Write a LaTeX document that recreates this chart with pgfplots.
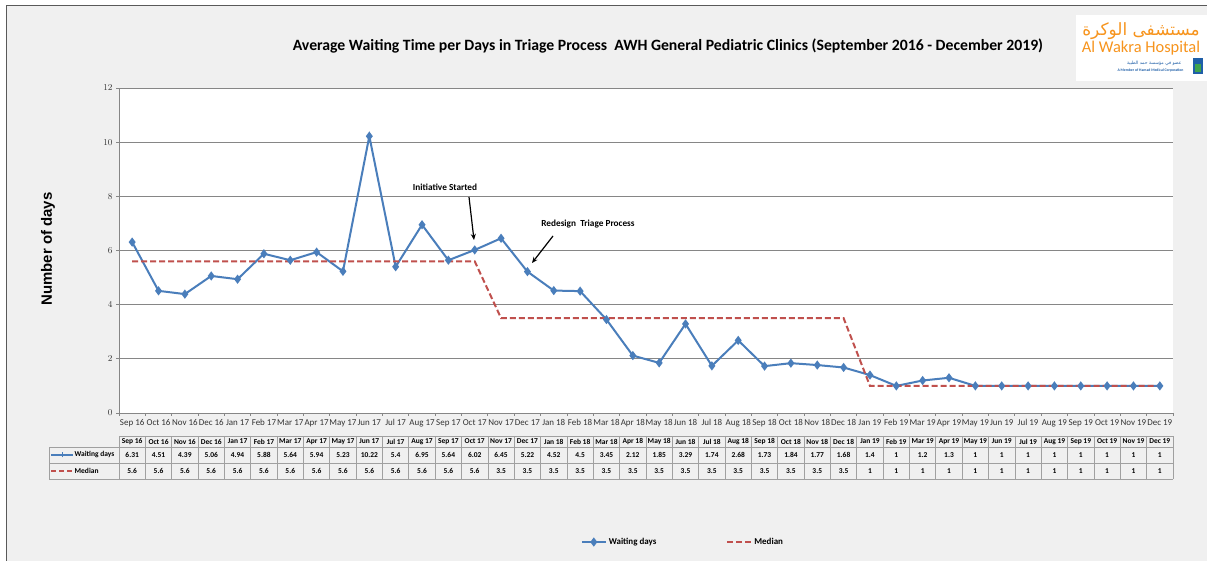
\documentclass[border=0pt]{standalone}
\usepackage{pgfplots}
\pgfplotsset{compat=1.18}
\usepackage{pgfplotstable}
\usepackage{fontspec}
\setmainfont{Carlito}
\newfontfamily\arialf{Liberation Sans}
\newfontfamily\arabicfont[Script=Arabic]{DejaVu Sans}
\TeXXeTstate=1
\usetikzlibrary{arrows.meta}
\definecolor{bg}{HTML}{F0F0F0}
\definecolor{wblue}{HTML}{4A7EBB}
\definecolor{mred}{HTML}{C0504D}
\definecolor{gridc}{HTML}{868686}
\definecolor{tabc}{HTML}{A0A0A0}
\definecolor{orangeW}{HTML}{F7941D}
\definecolor{hmcblue}{HTML}{1F5FA8}
\definecolor{hmcgreen}{HTML}{3FA34D}

\pgfplotstableread[col sep=comma]{
lab,wait,med
Sep 16,6.31,5.6
Oct 16,4.51,5.6
Nov 16,4.39,5.6
Dec 16,5.06,5.6
Jan 17,4.94,5.6
Feb 17,5.88,5.6
Mar 17,5.64,5.6
Apr 17,5.94,5.6
May 17,5.23,5.6
Jun 17,10.22,5.6
Jul 17,5.4,5.6
Aug 17,6.95,5.6
Sep 17,5.64,5.6
Oct 17,6.02,5.6
Nov 17,6.45,3.5
Dec 17,5.22,3.5
Jan 18,4.52,3.5
Feb 18,4.5,3.5
Mar 18,3.45,3.5
Apr 18,2.12,3.5
May 18,1.85,3.5
Jun 18,3.29,3.5
Jul 18,1.74,3.5
Aug 18,2.68,3.5
Sep 18,1.73,3.5
Oct 18,1.84,3.5
Nov 18,1.77,3.5
Dec 18,1.68,3.5
Jan 19,1.4,1
Feb 19,1,1
Mar 19,1.2,1
Apr 19,1.3,1
May 19,1,1
Jun 19,1,1
Jul 19,1,1
Aug 19,1,1
Sep 19,1,1
Oct 19,1,1
Nov 19,1,1
Dec 19,1,1
}\data

\newcommand{\tabfont}{\bfseries\fontsize{7.5}{8}\selectfont}
\begin{document}
\begin{tikzpicture}[x=1bp,y=1bp]
\useasboundingbox (0,0) rectangle (1207,561);
\fill[white] (0,0) rectangle (1207,561);
\fill[bg] (6,0) rectangle (1207,555);
\draw[gray!70!black, line width=1bp] (6,0) -- (6,555) -- (1207,555);

% title
\node[font=\bfseries\fontsize{15.8}{17}\selectfont] at (668,515)
  {Average Waiting Time per Days in Triage Process\ \ AWH General Pediatric Clinics (September 2016 - December 2019)};

% y label
\node[rotate=90, font=\arialf\bfseries\fontsize{15}{16}\selectfont] at (48,312) {Number of days};

\begin{axis}[
  at={(119bp,148bp)}, anchor=south west,
  width=1054bp, height=325bp, scale only axis,
  xmin=0, xmax=40, ymin=0, ymax=12,
  xtick={0,...,40}, x tick label as interval,
  xticklabels from table={\data}{lab},
  ytick={0,2,...,12},
  ymajorgrids, grid style={gridc, line width=0.8bp},
  axis lines*=left, axis line style={gridc, line width=0.8bp},
  tick align=outside, major tick length=3bp, tick style={gridc, line width=0.8bp},
  ticklabel style={font=\fontsize{9}{10}\selectfont, text=black!80},
  clip=false,
  axis background/.style={fill=white},
  legend style={at={(0.535,-0.397)}, anchor=center, draw=none, fill=none,
    font=\bfseries\fontsize{9}{10}\selectfont,
    /tikz/every even column/.append style={column sep=68bp}},
  legend columns=2,
  legend image code/.code={\draw[mark repeat=2,mark phase=2,#1] plot coordinates {(0bp,0bp) (12bp,0bp) (24bp,0bp)};},
]
\addplot[wblue, line width=2bp, mark=diamond*, mark size=3bp, mark options={solid, fill=wblue}]
  table[x expr=\coordindex+0.5, y=wait]{\data};
\addlegendentry{Waiting days}
\addplot[mred, line width=2bp, dash pattern=on 6bp off 3bp]
  table[x expr=\coordindex+0.5, y=med]{\data};
\addlegendentry{Median}
\end{axis}

% annotations
\node[font=\bfseries\fontsize{9.3}{10}\selectfont] at (445,374) {Initiative Started};
\draw[-{Stealth[length=6bp,width=5bp]}, line width=1.2bp] (469,364) -- (474,321);
\node[font=\bfseries\fontsize{9.3}{10}\selectfont] at (588,337) {Redesign\ \ Triage Process};
\draw[-{Stealth[length=6bp,width=5bp]}, line width=1.2bp] (553,325) -- (532,298);

% data table
\def\cw{26.35}
\foreach \i in {0,...,40} { \draw[tabc, line width=0.8bp] ({119+\i*\cw},82) -- ({119+\i*\cw},125); }
\draw[tabc, line width=0.8bp] (119,125) -- (1173,125);
\draw[tabc, line width=0.8bp] (49,114) -- (1173,114);
\draw[tabc, line width=0.8bp] (49,98) -- (1173,98);
\draw[tabc, line width=0.8bp] (49,82) -- (1173,82);
\draw[tabc, line width=0.8bp] (49,82) -- (49,114);
\foreach \i in {0,...,39} {
  \pgfplotstablegetelem{\i}{lab}\of\data
  \node[font=\tabfont] at ({119+(\i+0.5)*\cw},119.5) {\pgfplotsretval};
  \pgfplotstablegetelem{\i}{wait}\of\data
  \node[font=\tabfont] at ({119+(\i+0.5)*\cw},106) {\pgfplotsretval};
  \pgfplotstablegetelem{\i}{med}\of\data
  \node[font=\tabfont] at ({119+(\i+0.5)*\cw},90) {\pgfplotsretval};
}
\draw[wblue, line width=1.6bp] (51,106) -- (73,106);
\draw[wblue, line width=1bp] (62,103.5) -- (62,108.5);
\node[font=\tabfont, anchor=west, inner sep=1.5bp] at (73,106) {Waiting days};
\draw[mred, line width=1.6bp, dash pattern=on 5bp off 3bp] (51,90) -- (73,90);
\node[font=\tabfont, anchor=west, inner sep=1.5bp] at (73,90) {Median};

% logo
\fill[white] (1076,480) rectangle (1207,546);
\node[text=orangeW, font=\arabicfont\fontsize{17}{18}\selectfont] at (1141,530) {\beginR مستشفى الوكرة\endR};
\node[text=orangeW, font=\fontsize{16.5}{18}\selectfont] at (1141,513) {Al Wakra Hospital};
\node[text=hmcblue, font=\arabicfont\fontsize{4.5}{5}\selectfont, anchor=east] at (1185,498) {\beginR عضو في مؤسسة حمد الطبية\endR};
\node[text=hmcblue, font=\bfseries\fontsize{3.8}{4}\selectfont, anchor=east] at (1187,491) {A Member of Hamad Medical Corporation};
\fill[hmcblue] (1193,487) rectangle (1203,503);
\fill[hmcgreen] (1195,489) rectangle (1201,497);
\end{tikzpicture}
\end{document}
